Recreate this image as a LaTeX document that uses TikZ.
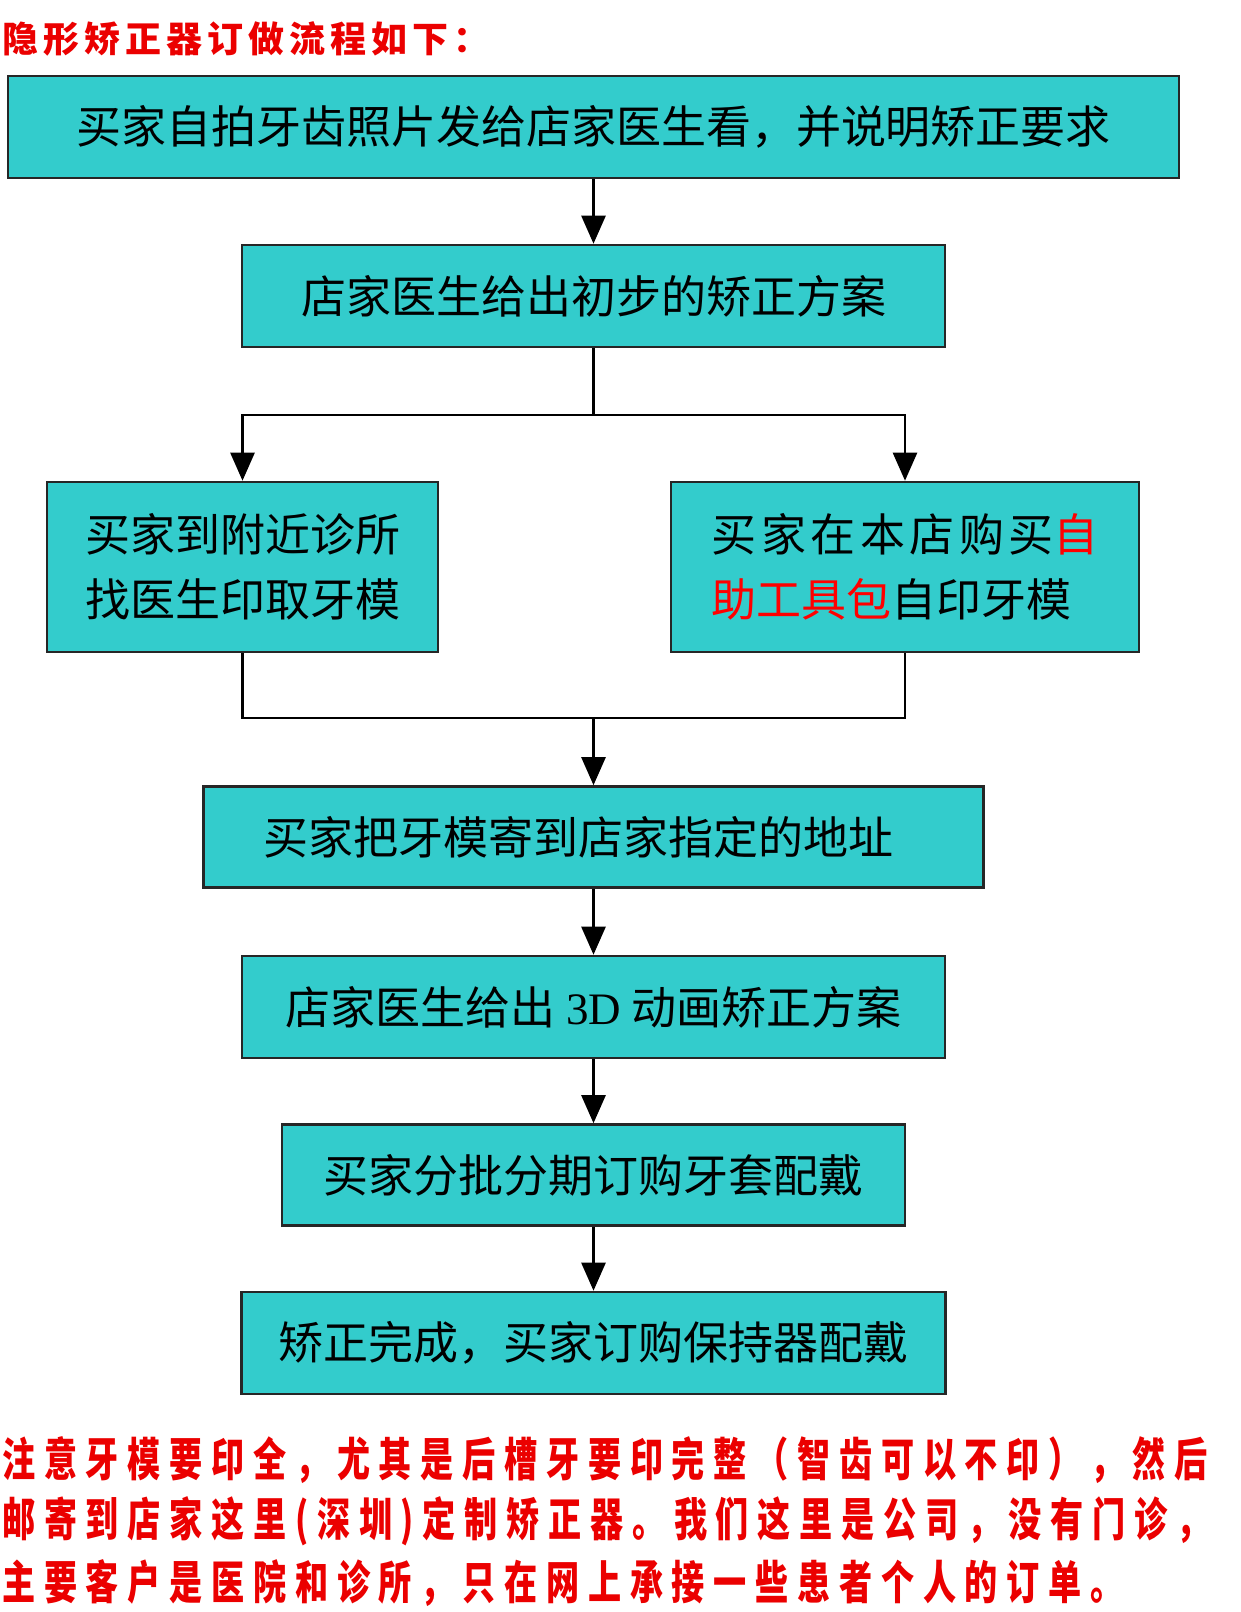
\documentclass[tikz,border=0pt]{standalone}
\usepackage{fontspec}
\usetikzlibrary{arrows.meta}
\newfontfamily\cjk{Noto Sans CJK SC}
\newfontfamily\cjkwide{Noto Sans CJK SC}[LetterSpace=10]
\newfontfamily\cjknote{Noto Sans CJK SC}[FakeStretch=0.72,LetterSpace=19]
\newfontfamily\cjktitle{Noto Sans CJK SC}[LetterSpace=14]
\newfontfamily\serifnum{Liberation Serif}
\definecolor{boxteal}{RGB}{51,204,204}
\definecolor{notered}{RGB}{235,0,0}
\newcommand\bxfont{\cjk\fontsize{45}{65}\selectfont}
\begin{document}
\begin{tikzpicture}[x=1pt,y=-1pt,
  box/.style={draw=black!85, line width=2.6pt, fill=boxteal, inner sep=0pt,
              align=center, font=\bxfont, text=black},
  conn/.style={line width=2.6pt, draw=black},
  arr/.style={conn, -{Triangle[length=28pt,width=24pt]}},
  note/.style={anchor=west, inner sep=0pt, text=notered,
               font=\cjknote\bfseries\fontsize{46}{48}\selectfont}]
\fill[white] (0,0) rectangle (1240,1612);
\useasboundingbox (0,0) rectangle (1240,1612);

\node[anchor=west, inner sep=0pt, text=notered,
      font=\cjktitle\bfseries\fontsize{36}{38}\selectfont] (title) at (2,39) {隐形矫正器订做流程如下：};

\node[box, minimum width=1171pt, minimum height=102pt] (b1) at (593.5,127)
  {买家自拍牙齿照片发给店家医生看，并说明矫正要求};
\node[box, minimum width=703pt, minimum height=102pt] (b2) at (593.5,296)
  {店家医生给出初步的矫正方案};
\node[box, align=left, minimum width=391pt, minimum height=170pt] (b3) at (242.5,567)
  {买家到附近诊所\\找医生印取牙模};
\node[box, align=left, minimum width=468pt, minimum height=170pt] (b4) at (905,567)
  {{\cjkwide 买家在本店购买\textcolor{red}{自}}\\\textcolor{red}{助工具包}自印牙模};
\node[box, minimum width=780pt, minimum height=101pt] (b5) at (593.5,837)
  {买家把牙模寄到店家指定的地址\hspace{30pt}};
\node[box, minimum width=703pt, minimum height=102pt] (b6) at (593.5,1007)
  {店家医生给出 {\serifnum 3D} 动画矫正方案};
\node[box, minimum width=623pt, minimum height=101pt] (b7) at (593.5,1175)
  {买家分批分期订购牙套配戴};
\node[box, minimum width=704pt, minimum height=102pt] (b8) at (593.5,1343)
  {矫正完成，买家订购保持器配戴};

\coordinate (j1) at (593.5,415);
\coordinate (j2) at (593.5,718);
\draw[arr] (b1) -- (b2);
\draw[conn] (b2.south) -- (j1);
\draw[arr] (j1) -| (b3.north);
\draw[arr] (j1) -| (b4.north);
\draw[conn] (b3.south) |- (j2) -| (b4.south);
\draw[arr] (j2) -- (b5.north);
\draw[arr] (b5) -- (b6);
\draw[arr] (b6) -- (b7);
\draw[arr] (b7) -- (b8);

\node[note] (n1) at (2,1460) {注意牙模要印全，尤其是后槽牙要印完整（智齿可以不印），然后};
\node[note] (n2) at (2,1521) {邮寄到店家这里(深圳)定制矫正器。我们这里是公司，没有门诊，};
\node[note] (n3) at (2,1583) {主要客户是医院和诊所，只在网上承接一些患者个人的订单。};
\end{tikzpicture}
\end{document}
